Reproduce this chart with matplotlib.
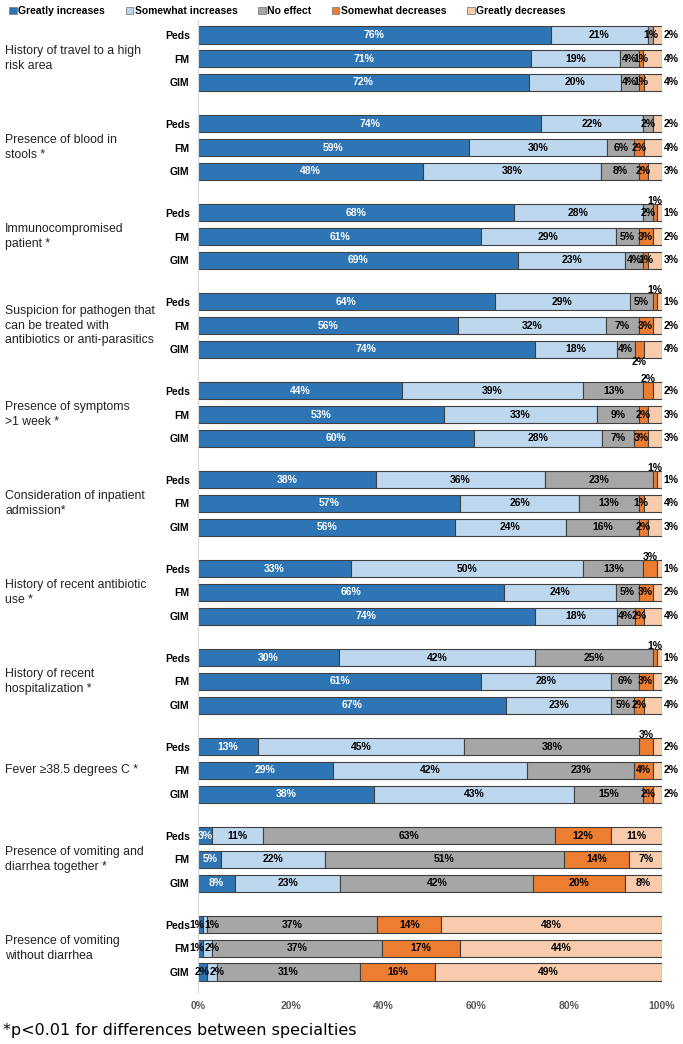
import matplotlib
matplotlib.use("Agg")
import matplotlib.pyplot as plt
import matplotlib.transforms as mtransforms
from matplotlib.patches import Patch

plt.rcParams['font.family'] = ['Liberation Sans', 'DejaVu Sans']

factors = [
    "History of travel to a high\nrisk area",
    "Presence of blood in\nstools *",
    "Immunocompromised\npatient *",
    "Suspicion for pathogen that\ncan be treated with\nantibiotics or anti-parasitics",
    "Presence of symptoms\n>1 week *",
    "Consideration of inpatient\nadmission*",
    "History of recent antibiotic\nuse *",
    "History of recent\nhospitalization *",
    "Fever \u226538.5 degrees C *",
    "Presence of vomiting and\ndiarrhea together *",
    "Presence of vomiting\nwithout diarrhea",
]
specialties = ["Peds", "FM", "GIM"]
responses = ["Greatly increases", "Somewhat increases", "No effect",
             "Somewhat decreases", "Greatly decreases"]

# one triple (Peds, FM, GIM) per factor
greatly_inc = [[76, 71, 72], [74, 59, 48], [68, 61, 69], [64, 56, 74], [44, 53, 60], [38, 57, 56],
               [33, 66, 74], [30, 61, 67], [13, 29, 38], [3, 5, 8], [1, 1, 2]]
somewhat_inc = [[21, 19, 20], [22, 30, 38], [28, 29, 23], [29, 32, 18], [39, 33, 28], [36, 26, 24],
                [50, 24, 18], [42, 28, 23], [45, 42, 43], [11, 22, 23], [1, 2, 2]]
no_effect = [[1, 4, 4], [2, 6, 8], [2, 5, 4], [5, 7, 4], [13, 9, 7], [23, 13, 16],
             [13, 5, 4], [25, 6, 5], [38, 23, 15], [63, 51, 42], [37, 37, 31]]
somewhat_dec = [[0, 1, 1], [0, 2, 2], [1, 3, 1], [1, 3, 2], [2, 2, 3], [1, 1, 2],
                [3, 3, 2], [1, 3, 2], [3, 4, 2], [12, 14, 20], [14, 17, 16]]
greatly_dec = [[2, 4, 4], [2, 4, 3], [1, 2, 3], [1, 2, 4], [2, 3, 3], [1, 4, 3],
               [1, 2, 4], [1, 2, 4], [2, 2, 2], [11, 7, 8], [48, 44, 49]]

colors = ["#2E75B6", "#BDD7EE", "#A6A6A6", "#ED7D31", "#F8CBAD"]

# small orange labels that sit above / below their bar in the original
orange_above = {(2, 0), (3, 0), (4, 0), (5, 0), (6, 0), (7, 0), (8, 0)}
orange_below = {(3, 2)}

step = 3.75
bar_h = 0.72


def main():
    fig = plt.figure(figsize=(6.83, 10.44), dpi=100)
    ax = fig.add_axes([198 / 683, 51 / 1044, 464 / 683, 973 / 1044])

    series = [greatly_inc, somewhat_inc, no_effect, somewhat_dec, greatly_dec]
    yticks = []
    ylabels = []
    for g in range(len(factors)):
        for r in range(3):
            y = g * step + r
            yticks.append(y)
            ylabels.append(specialties[r])
            vals = [s[g][r] for s in series]
            total = sum(vals)
            left = 0
            for k, v in enumerate(vals):
                w = v / total * 100
                ax.barh(y, w, left=left, height=bar_h, color=colors[k],
                        edgecolor="#404040", linewidth=0.8)
                if v > 0:
                    tx, ty, ha = left + w / 2, y, "center"
                    if k == 0 and v <= 2:
                        tx, ha = left + w + 0.4, "right"
                    if k == 1 and v <= 2:
                        tx, ha = left + 0.4, "left"
                    if k == 4 and v <= 4:
                        tx, ha = 100.4, "left"
                    if k == 3 and (g, r) in orange_above:
                        ty = y - 0.5
                    if k == 3 and (g, r) in orange_below:
                        ty = y + 0.55
                    col = "white" if (k == 0 and v >= 3) else "black"
                    ax.text(tx, ty, f"{v}%", ha=ha, va="center", fontsize=7.5,
                            fontweight="bold", color=col)
                left += w

    ax.set_xlim(0, 100)
    ax.set_ylim(39.5 + 21 / 23.72, -15 / 23.72)
    ax.set_yticks(yticks)
    ax.set_yticklabels(ylabels, fontsize=7.5, fontweight="bold")
    ax.tick_params(axis="y", length=0, pad=6)
    ax.set_xticks(range(0, 101, 20))
    ax.set_xticklabels([f"{t}%" for t in range(0, 101, 20)], fontsize=7.5,
                       fontweight="bold", color="#595959")
    ax.tick_params(axis="x", length=0, pad=6)
    for side in ["top", "right", "bottom"]:
        ax.spines[side].set_visible(False)
    ax.spines["left"].set_color("#D9D9D9")

    trans = mtransforms.blended_transform_factory(fig.transFigure, ax.transData)
    for g, name in enumerate(factors):
        ax.text(5 / 683, g * step + 1, name, transform=trans, ha="left", va="center",
                fontsize=8.8, linespacing=1.3, color="#222222")

    handles = [Patch(facecolor=c, edgecolor="#7F7F7F", linewidth=0.6) for c in colors]
    fig.legend(handles, responses, loc="upper left", bbox_to_anchor=(0.0, 1.003), ncol=5,
               frameon=False, handlelength=0.7, handleheight=0.7, handletextpad=0.15,
               columnspacing=2.0, prop={"size": 7.5, "weight": "bold"})

    fig.text(3 / 683, 14 / 1044, "*p<0.01 for differences between specialties",
             fontsize=11.5, va="center", ha="left", family="DejaVu Sans")

    fig.savefig("out.png", dpi=100)


if __name__ == '__main__':
    main()
